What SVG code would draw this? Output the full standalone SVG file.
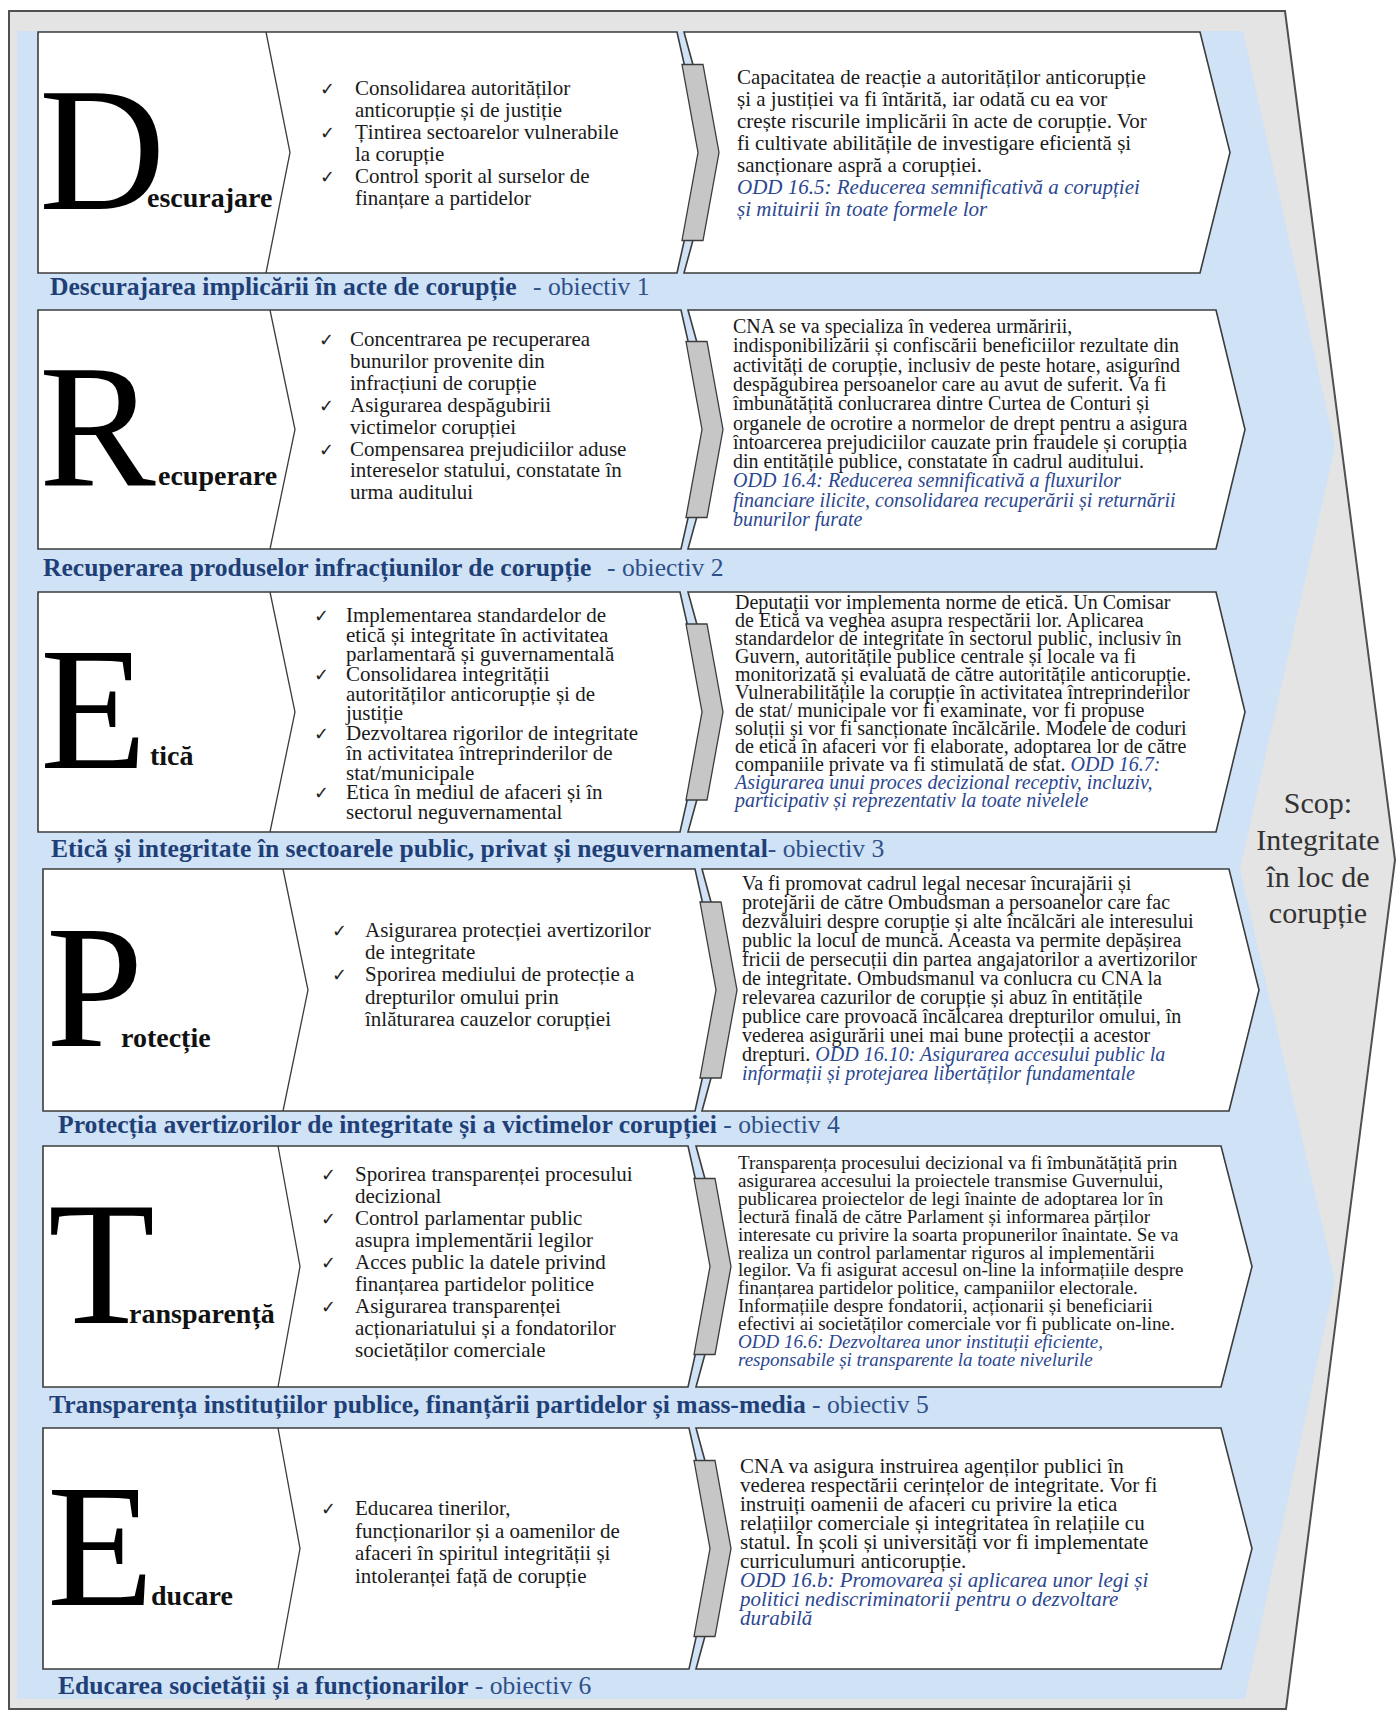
<svg xmlns="http://www.w3.org/2000/svg" width="1396" height="1711" viewBox="0 0 1396 1711">
<style>
.frame{fill:#e4e4e4;stroke:#505050;stroke-width:2}
.bg{fill:#cfe2f6}
.box{fill:#fff;stroke:#3c3c3c;stroke-width:1.6}
.sep{fill:none;stroke:#3c3c3c;stroke-width:1.3}
.conn{fill:#c6c6c6;stroke:#3c3c3c;stroke-width:1.3}
text{font-family:"Liberation Serif","Times New Roman",serif}
.big{font-size:175px;fill:#000}
.suf{font-size:28px;font-weight:bold;fill:#111}
.chk{font-family:"DejaVu Sans",sans-serif;font-size:18px;fill:#222}
.bl{font-size:21px;fill:#1a1a1a}
.tx{fill:#1a1a1a}
.odd{font-style:italic;fill:#2b4790}
.ttl{font-size:25.6px;fill:#1f3f77}
.tb{font-weight:bold}
.tn{fill:#2f5088}
.scop{font-size:30px;fill:#333;text-anchor:middle}
</style>
<rect width="1396" height="1711" fill="#ffffff"/>
<polygon class="frame" points="9,11 1285,11 1395,860 1286,1709 9,1709"/>
<polygon class="bg" points="17,31 1243,31 1335,447 1240,870 1335,1280 1245,1699 17,1699"/>

<g id="scop">
<text class="scop"><tspan x="1318" y="813">Scop:</tspan><tspan x="1318" y="850">Integritate</tspan><tspan x="1318" y="887">în loc de</tspan><tspan x="1318" y="923">corupție</tspan></text>
</g>

<g id="row1">
<polygon class="box" points="38,32 677,32 704,152.5 677,273 38,273"/>
<polyline class="sep" points="266,32 290,152.5 266,273"/>
<polygon class="box" points="684,32 1200,32 1230,152.5 1200,273 684,273 717,152.5"/>
<text class="big" x="39" y="209">D</text>
<text class="suf" x="147" y="207">escurajare</text>
<text class="chk" x="320" y="95">✓</text><text class="chk" x="320" y="139">✓</text><text class="chk" x="320" y="183">✓</text>
<text class="bl"><tspan x="355" y="95">Consolidarea autorităților</tspan><tspan x="355" y="117">anticorupție și de justiție</tspan><tspan x="355" y="139">Țintirea sectoarelor vulnerabile</tspan><tspan x="355" y="161">la corupție</tspan><tspan x="355" y="183">Control sporit al surselor de</tspan><tspan x="355" y="205">finanțare a partidelor</tspan></text>
<text class="tx" font-size="21"><tspan x="737" y="84">Capacitatea de reacție a autorităților anticorupție</tspan><tspan x="737" y="106">și a justiției va fi întărită, iar odată cu ea vor</tspan><tspan x="737" y="128">crește riscurile implicării în acte de corupție. Vor</tspan><tspan x="737" y="150">fi cultivate abilitățile de investigare eficientă și</tspan><tspan x="737" y="172">sancționare aspră a corupției.</tspan><tspan class="odd" x="737" y="194">ODD 16.5: Reducerea semnificativă a corupției</tspan><tspan class="odd" x="737" y="216">și mituirii în toate formele lor</tspan></text>
<text class="ttl" y="295"><tspan class="tb" x="50">Descurajarea implicării în acte de corupție</tspan><tspan class="tn" x="533">- obiectiv 1</tspan></text>
</g>

<g id="row2">
<polygon class="box" points="38,310 681,310 708,429.5 681,549 38,549"/>
<polyline class="sep" points="270,310 295,429.5 270,549"/>
<polygon class="box" points="688,310 1216,310 1245,429.5 1216,549 688,549 721,429.5"/>
<text class="big" x="39" y="486">R</text>
<text class="suf" x="158" y="485">ecuperare</text>
<text class="chk" x="319" y="346">✓</text><text class="chk" x="319" y="412">✓</text><text class="chk" x="319" y="456">✓</text>
<text class="bl"><tspan x="350" y="346">Concentrarea pe recuperarea</tspan><tspan x="350" y="368">bunurilor provenite din</tspan><tspan x="350" y="390">infracțiuni de corupție</tspan><tspan x="350" y="412">Asigurarea despăgubirii</tspan><tspan x="350" y="434">victimelor corupției</tspan><tspan x="350" y="456">Compensarea prejudiciilor aduse</tspan><tspan x="350" y="477">intereselor statului, constatate în</tspan><tspan x="350" y="499">urma auditului</tspan></text>
<text class="tx" font-size="20"><tspan x="733" y="333">CNA se va specializa în vederea urmăririi,</tspan><tspan x="733" y="352">indisponibilizării și confiscării beneficiilor rezultate din</tspan><tspan x="733" y="372">activități de corupție, inclusiv de peste hotare, asigurînd</tspan><tspan x="733" y="391">despăgubirea persoanelor care au avut de suferit. Va fi</tspan><tspan x="733" y="410">îmbunătățită conlucrarea dintre Curtea de Conturi și</tspan><tspan x="733" y="430">organele de ocrotire a normelor de drept pentru a asigura</tspan><tspan x="733" y="449">întoarcerea prejudiciilor cauzate prin fraudele și corupția</tspan><tspan x="733" y="468">din entitățile publice, constatate în cadrul auditului.</tspan><tspan class="odd" x="733" y="487">ODD 16.4: Reducerea semnificativă a fluxurilor</tspan><tspan class="odd" x="733" y="507">financiare ilicite, consolidarea recuperării și returnării</tspan><tspan class="odd" x="733" y="526">bunurilor furate</tspan></text>
<text class="ttl" y="576"><tspan class="tb" x="43">Recuperarea produselor infracțiunilor de corupție</tspan><tspan class="tn" x="607">- obiectiv 2</tspan></text>
</g>

<g id="row3">
<polygon class="box" points="38,592 680,592 707,712 680,832 38,832"/>
<polyline class="sep" points="270,592 295,712 270,832"/>
<polygon class="box" points="688,592 1216,592 1245,712 1216,832 688,832 721,712"/>
<text class="big" x="40" y="768">E</text>
<text class="suf" x="150" y="765">tică</text>
<text class="chk" x="314" y="622">✓</text><text class="chk" x="314" y="681">✓</text><text class="chk" x="314" y="740">✓</text><text class="chk" x="314" y="799">✓</text>
<text class="bl"><tspan x="346" y="622">Implementarea standardelor  de</tspan><tspan x="346" y="642">etică și integritate în activitatea</tspan><tspan x="346" y="661">parlamentară și guvernamentală</tspan><tspan x="346" y="681">Consolidarea integrității</tspan><tspan x="346" y="701">autorităților anticorupție și de</tspan><tspan x="346" y="720">justiție</tspan><tspan x="346" y="740">Dezvoltarea rigorilor de integritate</tspan><tspan x="346" y="760">în activitatea  întreprinderilor de</tspan><tspan x="346" y="780">stat/municipale</tspan><tspan x="346" y="799">Etica în mediul de afaceri și în</tspan><tspan x="346" y="819">sectorul neguvernamental</tspan></text>
<text class="tx" font-size="20"><tspan x="735" y="609">Deputații vor implementa norme de etică. Un Comisar</tspan><tspan x="735" y="627">de Etică va veghea asupra respectării lor. Aplicarea</tspan><tspan x="735" y="645">standardelor de integritate în  sectorul public, inclusiv în</tspan><tspan x="735" y="663">Guvern, autoritățile publice centrale și locale va fi</tspan><tspan x="735" y="681">monitorizată și evaluată de către autoritățile anticorupție.</tspan><tspan x="735" y="699">Vulnerabilitățile la corupție în activitatea întreprinderilor</tspan><tspan x="735" y="717">de stat/ municipale vor fi examinate, vor fi propuse</tspan><tspan x="735" y="735">soluții și vor fi sancționate încălcările. Modele de coduri</tspan><tspan x="735" y="753">de etică în afaceri vor fi elaborate, adoptarea lor de către</tspan><tspan x="735" y="771">companiile private va fi stimulată de stat. </tspan><tspan class="odd">ODD 16.7:</tspan><tspan class="odd" x="735" y="789">Asigurarea unui proces decizional receptiv, incluziv,</tspan><tspan class="odd" x="735" y="807">participativ și reprezentativ la toate nivelele</tspan></text>
<text class="ttl" y="857"><tspan class="tb" x="51">Etică și integritate în sectoarele public, privat și neguvernamental</tspan><tspan class="tn">- obiectiv 3</tspan></text>
</g>

<g id="row4">
<polygon class="box" points="43,869 695,869 722,990 695,1111 43,1111"/>
<polyline class="sep" points="283,869 308,990 283,1111"/>
<polygon class="box" points="702,869 1229,869 1259,990 1229,1111 702,1111 735,990"/>
<text class="big" x="46" y="1046">P</text>
<text class="suf" x="121" y="1047">rotecție</text>
<text class="chk" x="332" y="937">✓</text><text class="chk" x="332" y="981">✓</text>
<text class="bl"><tspan x="365" y="937">Asigurarea protecției avertizorilor</tspan><tspan x="365" y="959">de integritate</tspan><tspan x="365" y="981">Sporirea mediului de protecție a</tspan><tspan x="365" y="1004">drepturilor omului prin</tspan><tspan x="365" y="1026">înlăturarea cauzelor corupției</tspan></text>
<text class="tx" font-size="20"><tspan x="742" y="890">Va fi promovat cadrul legal necesar încurajării și</tspan><tspan x="742" y="909">protejării  de către Ombudsman a persoanelor care fac</tspan><tspan x="742" y="928">dezvăluiri  despre corupție și alte încălcări ale interesului</tspan><tspan x="742" y="947">public la locul de muncă. Aceasta va permite depășirea</tspan><tspan x="742" y="966">fricii de persecuții din partea angajatorilor a avertizorilor</tspan><tspan x="742" y="985">de integritate. Ombudsmanul va conlucra cu CNA la</tspan><tspan x="742" y="1004">relevarea cazurilor de corupție și abuz în entitățile</tspan><tspan x="742" y="1023">publice care provoacă încălcarea drepturilor omului, în</tspan><tspan x="742" y="1042">vederea asigurării unei mai bune protecții a acestor</tspan><tspan x="742" y="1061">drepturi. </tspan><tspan class="odd">ODD 16.10: Asigurarea accesului public la</tspan><tspan class="odd" x="742" y="1080">informații și protejarea libertăților fundamentale</tspan></text>
<text class="ttl" y="1133"><tspan class="tb" x="58">Protecția avertizorilor de integritate și a victimelor corupției</tspan><tspan class="tn"> - obiectiv 4</tspan></text>
</g>

<g id="row5">
<polygon class="box" points="43,1146 688,1146 715,1266.5 688,1387 43,1387"/>
<polyline class="sep" points="278,1146 300,1266.5 278,1387"/>
<polygon class="box" points="696,1146 1221,1146 1252,1266.5 1221,1387 696,1387 729,1266.5"/>
<text class="big" x="48" y="1323">T</text>
<text class="suf" x="129" y="1323">ransparență</text>
<text class="chk" x="321" y="1181">✓</text><text class="chk" x="321" y="1225">✓</text><text class="chk" x="321" y="1269">✓</text><text class="chk" x="321" y="1313">✓</text>
<text class="bl"><tspan x="355" y="1181">Sporirea transparenței procesului</tspan><tspan x="355" y="1203">decizional</tspan><tspan x="355" y="1225">Control parlamentar public</tspan><tspan x="355" y="1247">asupra implementării legilor</tspan><tspan x="355" y="1269">Acces public la datele privind</tspan><tspan x="355" y="1291">finanțarea partidelor politice</tspan><tspan x="355" y="1313">Asigurarea transparenței</tspan><tspan x="355" y="1335">acționariatului și a fondatorilor</tspan><tspan x="355" y="1357">societăților comerciale</tspan></text>
<text class="tx" font-size="19"><tspan x="738" y="1169">Transparența procesului decizional va fi îmbunătățită prin</tspan><tspan x="738" y="1187">asigurarea accesului la proiectele transmise Guvernului,</tspan><tspan x="738" y="1205">publicarea proiectelor de legi înainte de adoptarea lor în</tspan><tspan x="738" y="1223">lectură finală de către Parlament și informarea părților</tspan><tspan x="738" y="1241">interesate cu privire la soarta propunerilor înaintate. Se va</tspan><tspan x="738" y="1259">realiza un control parlamentar riguros al implementării</tspan><tspan x="738" y="1276">legilor. Va fi asigurat accesul on-line la informațiile despre</tspan><tspan x="738" y="1294">finanțarea partidelor politice, campaniilor electorale.</tspan><tspan x="738" y="1312">Informațiile despre fondatorii, acționarii și beneficiarii</tspan><tspan x="738" y="1330">efectivi ai societăților comerciale vor fi publicate on-line.</tspan><tspan class="odd" x="738" y="1348">ODD 16.6: Dezvoltarea unor instituții eficiente,</tspan><tspan class="odd" x="738" y="1366">responsabile și transparente la toate nivelurile</tspan></text>
<text class="ttl" y="1413"><tspan class="tb" x="49">Transparența instituțiilor publice, finanțării partidelor și mass-media</tspan><tspan class="tn"> - obiectiv 5</tspan></text>
</g>

<g id="row6">
<polygon class="box" points="43,1428 689,1428 716,1548.5 689,1669 43,1669"/>
<polyline class="sep" points="278,1428 300,1548.5 278,1669"/>
<polygon class="box" points="696,1428 1221,1428 1252,1548.5 1221,1669 696,1669 729,1548.5"/>
<text class="big" x="47" y="1605">E</text>
<text class="suf" x="151" y="1605">ducare</text>
<text class="chk" x="321" y="1515">✓</text>
<text class="bl"><tspan x="355" y="1515">Educarea tinerilor,</tspan><tspan x="355" y="1538">funcționarilor și a oamenilor de</tspan><tspan x="355" y="1560">afaceri în spiritul integrității și</tspan><tspan x="355" y="1583">intoleranței față de corupție</tspan></text>
<text class="tx" font-size="21"><tspan x="740" y="1473">CNA va asigura instruirea agenților publici în</tspan><tspan x="740" y="1492">vederea respectării cerințelor de integritate. Vor fi</tspan><tspan x="740" y="1511">instruiți oamenii de afaceri cu privire la etica</tspan><tspan x="740" y="1530">relațiilor comerciale și integritatea în relațiile cu</tspan><tspan x="740" y="1549">statul. În școli și universități vor fi implementate</tspan><tspan x="740" y="1568">curriculumuri anticorupție.</tspan><tspan class="odd" x="740" y="1587">ODD 16.b: Promovarea și aplicarea unor legi și</tspan><tspan class="odd" x="740" y="1606">politici nediscriminatorii pentru o dezvoltare</tspan><tspan class="odd" x="740" y="1625">durabilă</tspan></text>
<text class="ttl" y="1694"><tspan class="tb" x="58">Educarea societății și a funcționarilor</tspan><tspan class="tn"> - obiectiv 6</tspan></text>
</g>

<g id="connectors">
<polygon class="conn" points="682,64.5 703,64.5 719,152.5 703,240.5 682,240.5 698,152.5"/>
<polygon class="conn" points="686,341.5 707,341.5 723,429.5 707,517.5 686,517.5 702,429.5"/>
<polygon class="conn" points="686,624 707,624 723,712 707,800 686,800 702,712"/>
<polygon class="conn" points="700,902 721,902 737,990 721,1078 700,1078 716,990"/>
<polygon class="conn" points="694,1178.5 715,1178.5 731,1266.5 715,1354.5 694,1354.5 710,1266.5"/>
<polygon class="conn" points="694,1460.5 715,1460.5 731,1548.5 715,1636.5 694,1636.5 710,1548.5"/>
</g>
</svg>
